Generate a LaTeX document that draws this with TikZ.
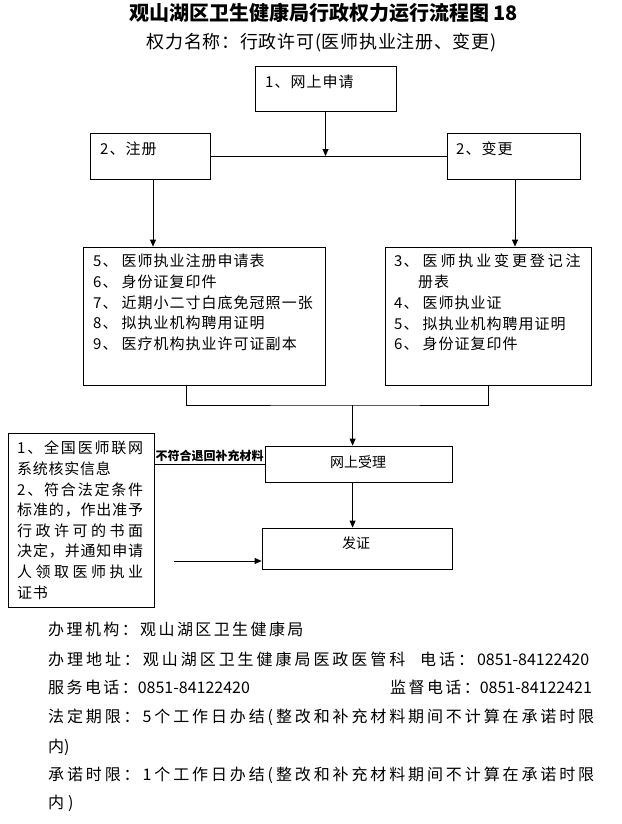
\documentclass[tikz,border=0pt]{standalone}
\usepackage{fontspec}
\setmainfont{Noto Sans CJK SC}
\newfontfamily\fnorm{Noto Sans CJK SC}
\newfontfamily\fwide{Noto Sans CJK SC}[LetterSpace=15]
\newfontfamily\fmid{Noto Sans CJK SC}[LetterSpace=6.7]
\newfontfamily\fnote{Noto Sans CJK SC}[LetterSpace=5]
\newfontfamily\fsub{Noto Sans CJK SC}[LetterSpace=4]
\usetikzlibrary{arrows.meta}
\newcommand\nm[1]{\makebox[28.5pt][l]{#1、}}
\def\sprstopm{\sprstop}
\def\sprfirst#1{#1\sprnext}
\def\sprnext#1{\def\sprtmp{#1}\ifx\sprtmp\sprstopm\else\hskip0pt plus 1fil #1\expandafter\sprnext\fi}
\newcommand\jb[2]{\makebox[#1][s]{\sprfirst#2\sprstop}}
\newcommand\dg[1]{{\fnorm #1}}
\tikzset{
  box/.style={draw, line width=0.8pt, inner sep=0pt},
  arr/.style={-{Triangle[length=7pt,width=6pt]}, line width=0.8pt},
  ln/.style={line width=0.8pt},
  tx/.style={inner sep=0pt, anchor=west, font=\fontsize{15}{20.7}\fmid},
  ft/.style={inner sep=0pt, anchor=west, font=\fontsize{16}{19}\fwide},
  ctx/.style={inner sep=0pt, font=\fontsize{14}{16}\fnorm}
}
\begin{document}
\begin{tikzpicture}[x=1pt,y=-1pt]
\useasboundingbox (0,0) rectangle (621,824);
% titles
\node[inner sep=0pt, font=\fontsize{20}{24}\fnorm\bfseries] (title) at (323.5,13) {观山湖区卫生健康局行政权力运行流程图 18};
\node[inner sep=0pt, font=\fontsize{18}{22}\fsub] (sub) at (321.5,43) {权力名称：行政许可(医师执业注册、变更)};
% boxes
\node[box,minimum width=141pt,minimum height=45pt] (b1) at (325.5,88.5) {};
\node[tx] (t1) at (265,82) {1、网上申请};
\node[box,minimum width=120pt,minimum height=46pt] (zc) at (150,156) {};
\node[tx] (t2) at (100,149) {2、注册};
\node[box,minimum width=133pt,minimum height=46pt] (bg) at (513.5,156) {};
\node[tx] (t3) at (456,149) {2、变更};
\node[box,minimum width=242.5pt,minimum height=138pt] (L) at (204.25,316) {};
\node[tx,anchor=north west,align=left] (tL) at (93,254) {\nm{5}医师执业注册申请表\\\nm{6}身份证复印件\\\nm{7}近期小二寸白底免冠照一张\\\nm{8}拟执业机构聘用证明\\\nm{9}医疗机构执业许可证副本};
\node[box,minimum width=206pt,minimum height=138pt] (R) at (488,316) {};
\node[tx,anchor=north west,align=left] (tR) at (394,254) {\nm{3}\jb{158pt}{医师执业变更登记注}\\\hspace*{24pt}册表\\\nm{4}医师执业证\\\nm{5}拟执业机构聘用证明\\\nm{6}身份证复印件};
\node[box,minimum width=187pt,minimum height=36pt] (sl) at (358.5,464) {};
\node[ctx] (tsl) at (358,462) {网上受理};
\node[box,minimum width=190pt,minimum height=41pt] (fz) at (357,548.5) {};
\node[ctx] (tfz) at (356,543) {发证};
\node[box,minimum width=146pt,minimum height=174pt] (nb) at (81,520) {};
\node[tx,anchor=north west,align=left,font=\fontsize{15}{20.6}\fnote] (tnb) at (17,441) {\jb{126pt}{1、全国医师联网}\\系统核实信息\\\jb{126pt}{2、符合法定条件}\\\jb{126pt}{标准的，作出准予}\\\jb{126pt}{行政许可的书面}\\\jb{126pt}{决定，并通知申请}\\\jb{126pt}{人领取医师执业}\\证书};
% connectors
\coordinate (j1) at (325.5,156);
\draw[arr] (b1.south) -- (j1);
\draw[ln] (zc.east) -- (bg.west);
\draw[arr] ([xshift=3pt]zc.south) -- ([xshift=3pt]zc.south |- L.north);
\draw[arr] ([xshift=1.5pt]bg.south) -- ([xshift=1.5pt]bg.south |- R.north);
\coordinate (jm) at (352.6,405);
\draw[ln] ([xshift=-18pt]L.south) |- (jm) -| (R.south);
\draw[arr] (jm) -- (jm |- sl.north);
\draw[arr] (jm |- sl.south) -- (jm |- fz.north);
\draw[ln] (sl.west) -- (sl.west -| nb.east) node[midway, above=2pt, inner sep=0pt, font=\fontsize{12}{14}\fnorm\bfseries] (lbl) {不符合退回补充材料};
\coordinate (a0) at (174,561);
\draw[arr] (a0) -- (a0 -| fz.west);
% footer
\node[ft] (f1) at (48,629) {办理机构：观山湖区卫生健康局};
\node[ft] (f2) at (48,659) {\jb{541pt}{办理地址：观山湖区卫生健康局医政医管科{\hspace{9pt}}电话：{\dg{0851-84122420}}}};
\node[ft] (f3a) at (48,687) {服务电话：\dg{0851-84122420}};
\node[ft] (f3b) at (390,687) {监督电话：\dg{0851-84122421}};
\node[ft] (f4) at (48,717) {\jb{546pt}{法定期限：{\dg{5}}个工作日办结{\dg{(}}整改和补充材料期间不计算在承诺时限}};
\node[ft] (f5) at (48,747) {内\dg{)}};
\node[ft] (f6) at (48,775) {\jb{546pt}{承诺时限：{\dg{1}}个工作日办结{\dg{(}}整改和补充材料期间不计算在承诺时限}};
\node[ft] (f7) at (48,803) {内\hspace{4pt}\dg{)}};
\end{tikzpicture}
\end{document}
